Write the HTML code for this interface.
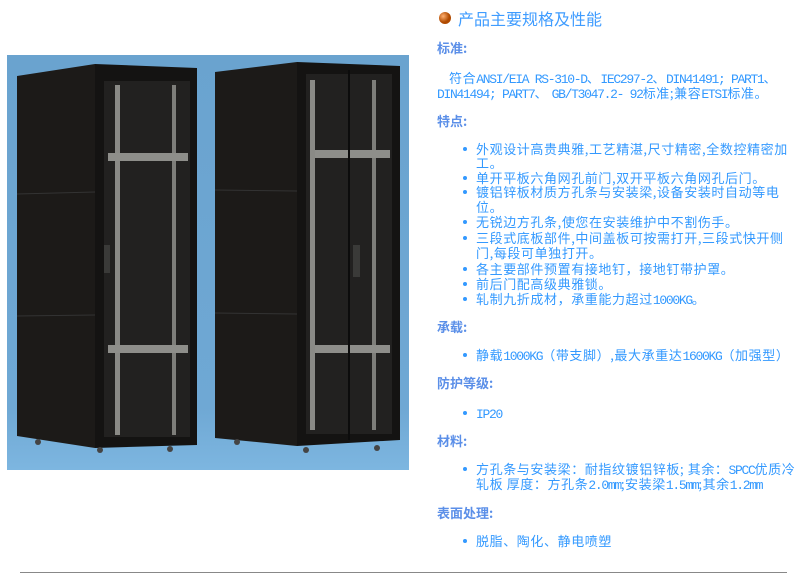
<!DOCTYPE html>
<html><head><meta charset="utf-8"><style>
body{margin:0;width:806px;height:585px;background:#fff;position:relative;overflow:hidden;font-family:"Liberation Sans","Noto Sans CJK SC",sans-serif;}
.t{position:absolute;font-size:13px;line-height:15px;color:#3399ff;white-space:nowrap;font-family:"Noto Sans CJK SC",sans-serif;letter-spacing:0.6px;}
.t span{font-family:"Liberation Mono",monospace;font-size:13px;letter-spacing:-1.3px;}
.h{position:absolute;font-size:13px;line-height:15px;color:#5b8fe8;font-weight:bold;white-space:nowrap;font-family:"Noto Sans CJK SC",sans-serif;}
.d{position:absolute;width:4px;height:4px;border-radius:50%;background:#3399ff;}
</style></head><body>
<svg style="position:absolute;left:0;top:0" width="420" height="480">
<defs><linearGradient id="bg" x1="0" y1="0" x2="0" y2="1"><stop offset="0" stop-color="#6aa3cf"/><stop offset="0.85" stop-color="#6fa8d4"/><stop offset="1" stop-color="#7db6e0"/></linearGradient></defs>
<rect x="7" y="55" width="402" height="415" fill="url(#bg)"/>
<polygon points="17,76 95,64 95,448 17,436" fill="#1c1a18"/>
<polygon points="95,64 197,68 197,445 95,448" fill="#141312"/>
<rect x="104" y="81" width="86" height="356" fill="#222120"/>
<rect x="115" y="85" width="5" height="350" fill="#8a8a86"/>
<rect x="172" y="85" width="4" height="350" fill="#7e7e7a"/>
<rect x="108" y="153" width="80" height="8" fill="#8e8e8a"/>
<rect x="108" y="345" width="80" height="8" fill="#8e8e8a"/>
<line x1="17" y1="194" x2="95" y2="192" stroke="#333" />
<line x1="17" y1="316" x2="95" y2="315" stroke="#333"/>
<rect x="104" y="245" width="6" height="28" fill="#3a3a38"/>
<circle cx="38" cy="442" r="3" fill="#444"/><circle cx="100" cy="450" r="3" fill="#444"/><circle cx="170" cy="449" r="3" fill="#444"/>
<polygon points="215,72 297,62 297,446 215,438" fill="#1c1a18"/>
<polygon points="297,62 400,66 400,440 297,446" fill="#141312"/>
<rect x="306" y="74" width="86" height="360" fill="#222120"/>
<rect x="310" y="80" width="5" height="350" fill="#8a8a86"/>
<rect x="372" y="80" width="4" height="350" fill="#7e7e7a"/>
<rect x="315" y="150" width="75" height="8" fill="#8e8e8a"/>
<rect x="315" y="345" width="75" height="8" fill="#8e8e8a"/>
<line x1="349" y1="70" x2="349" y2="440" stroke="#0c0c0c" stroke-width="2"/>
<rect x="353" y="245" width="7" height="32" fill="#3a3a38"/>
<line x1="215" y1="190" x2="297" y2="191" stroke="#333"/>
<line x1="215" y1="313" x2="297" y2="314" stroke="#333"/>
<circle cx="237" cy="442" r="3" fill="#444"/><circle cx="306" cy="450" r="3" fill="#444"/><circle cx="377" cy="448" r="3" fill="#444"/>
</svg>
<svg style="position:absolute;left:437px;top:10px" width="16" height="16"><defs><radialGradient id="b" cx="0.35" cy="0.35"><stop offset="0" stop-color="#ffb070"/><stop offset="1" stop-color="#b04a00"/></radialGradient></defs><circle cx="8" cy="8" r="6" fill="url(#b)"/></svg>
<div class="t" style="left:458px;top:8px;font-size:16px;line-height:20px;color:#3f9cff;letter-spacing:0">产品主要规格及性能</div>
<div class="h" style="left:437px;top:40px">标准:</div>
<div class="t" style="left:449px;top:70px">符合<span>ANSI/EIA RS-310-D</span>、<span>IEC297-2</span>、<span>DIN41491; PART1</span>、</div>
<div class="t" style="left:437px;top:85px"><span>DIN41494; PART7</span>、 <span>GB/T3047.2- 92</span>标准;兼容<span>ETSI</span>标准。</div>
<div class="h" style="left:437px;top:113px">特点:</div>
<div class="d" style="left:463px;top:147px"></div><div class="t" style="left:476px;top:141px">外观设计高贵典雅,工艺精湛,尺寸精密,全数控精密加</div>
<div class="t" style="left:476px;top:155px">工。</div>
<div class="d" style="left:463px;top:176px"></div><div class="t" style="left:476px;top:170px">单开平板六角网孔前门,双开平板六角网孔后门。</div>
<div class="d" style="left:463px;top:190px"></div><div class="t" style="left:476px;top:184px">镀铝锌板材质方孔条与安装梁,设备安装时自动等电</div>
<div class="t" style="left:476px;top:199px">位。</div>
<div class="d" style="left:463px;top:220px"></div><div class="t" style="left:476px;top:214px">无锐边方孔条,使您在安装维护中不割伤手。</div>
<div class="d" style="left:463px;top:236px"></div><div class="t" style="left:476px;top:230px">三段式底板部件,中间盖板可按需打开,三段式快开侧</div>
<div class="t" style="left:476px;top:245px">门,每段可单独打开。</div>
<div class="d" style="left:463px;top:267px"></div><div class="t" style="left:476px;top:261px">各主要部件预置有接地钉，接地钉带护罩。</div>
<div class="d" style="left:463px;top:282px"></div><div class="t" style="left:476px;top:276px">前后门配高级典雅锁。</div>
<div class="d" style="left:463px;top:297px"></div><div class="t" style="left:476px;top:291px">轧制九折成材，承重能力超过<span>1000KG</span>。</div>
<div class="h" style="left:437px;top:319px">承载:</div>
<div class="d" style="left:463px;top:353px"></div><div class="t" style="left:476px;top:347px">静载<span>1000KG</span>（带支脚）,最大承重达<span>1600KG</span>（加强型）</div>
<div class="h" style="left:437px;top:375px">防护等级:</div>
<div class="d" style="left:463px;top:411px"></div><div class="t" style="left:476px;top:405px"><span>IP20</span></div>
<div class="h" style="left:437px;top:433px">材料:</div>
<div class="d" style="left:463px;top:467px"></div><div class="t" style="left:476px;top:461px">方孔条与安装梁：耐指纹镀铝锌板; 其余：<span>SPCC</span>优质冷</div>
<div class="t" style="left:476px;top:476px">轧板 厚度：方孔条<span>2.0mm</span>;安装梁<span>1.5mm</span>;其余<span>1.2mm</span></div>
<div class="h" style="left:437px;top:505px">表面处理:</div>
<div class="d" style="left:463px;top:539px"></div><div class="t" style="left:476px;top:533px">脱脂、陶化、静电喷塑</div>
<div style="position:absolute;left:20px;top:572px;width:767px;height:1px;background:#888"></div>
</body></html>
